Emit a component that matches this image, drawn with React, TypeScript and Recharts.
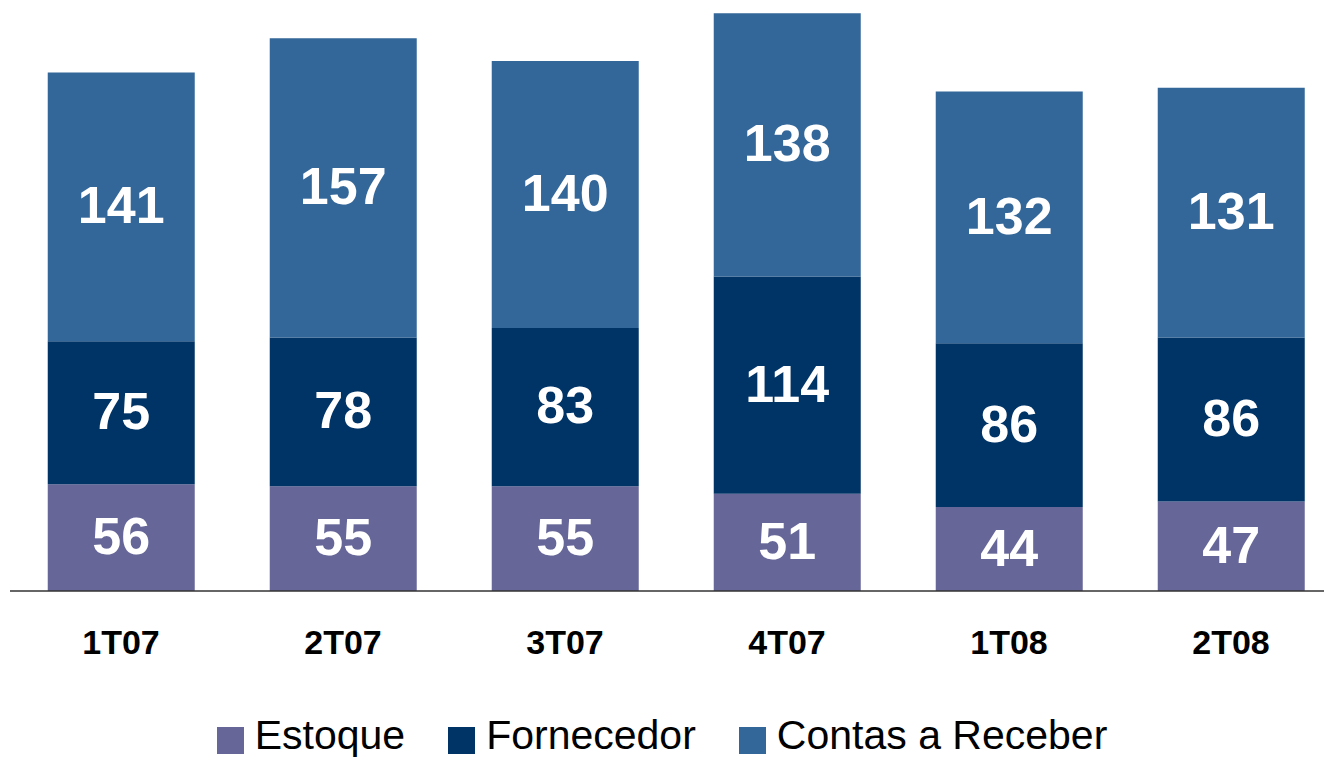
import React from "react";
import { BarChart, Bar, XAxis, YAxis, LabelList } from "recharts";

const categories = ["1T07", "2T07", "3T07", "4T07", "1T08", "2T08"];
const estoque = [56, 55, 55, 51, 44, 47];
const fornecedor = [75, 78, 83, 114, 86, 86];
const contasReceber = [141, 157, 140, 138, 132, 131];

const seriesNames = ["Estoque", "Fornecedor", "Contas a Receber"];
const colors = ["#666699", "#003366", "#336699"];

const data = categories.map((c, i) => ({
  name: c,
  estoque: estoque[i],
  fornecedor: fornecedor[i],
  contas: contasReceber[i],
}));

const FONT = "'Liberation Sans', Arial, Helvetica, sans-serif";

const labelStyle = {
  fill: "#ffffff",
  fontSize: 52,
  fontWeight: "bold" as const,
  fontFamily: FONT,
};

export default function App() {
  const keys = ["estoque", "fornecedor", "contas"];
  return (
    <div
      style={{
        position: "absolute",
        left: 0,
        top: 0,
        width: 1324,
        height: 760,
        overflow: "hidden",
        background: "#ffffff",
      }}
    >
      <BarChart
        width={1342}
        height={760}
        data={data}
        margin={{ top: 0, right: 0, bottom: 0, left: 10 }}
        barCategoryGap="17%"
      >
        <YAxis hide domain={[0, 310]} allowDataOverflow />
        <XAxis
          dataKey="name"
          height={169}
          tickLine={false}
          axisLine={{ stroke: "#333333", strokeWidth: 1.5 }}
          tickMargin={33}
          tick={{ fill: "#000000", fontSize: 34, fontWeight: "bold", fontFamily: FONT }}
          interval={0}
        />
        {keys.map((k, i) => (
          <Bar
            key={k}
            dataKey={k}
            name={seriesNames[i]}
            stackId="a"
            fill={colors[i]}
            isAnimationActive={false}
          >
            <LabelList dataKey={k} position="center" offset={0} dy={-2} style={labelStyle} />
          </Bar>
        ))}
      </BarChart>
      <div
        style={{
          position: "absolute",
          left: 0,
          top: 717,
          width: 1324,
          display: "flex",
          justifyContent: "center",
          fontFamily: FONT,
        }}
      >
        {seriesNames.map((n, i) => (
          <div
            key={n}
            style={{
              display: "flex",
              alignItems: "flex-start",
              marginLeft: i === 0 ? 0 : 43,
            }}
          >
            <span
              style={{
                display: "inline-block",
                width: 27,
                height: 27,
                marginTop: 10,
                marginRight: 11,
                background: colors[i],
              }}
            />
            <span style={{ fontSize: 41, lineHeight: "36px", color: "#000000", whiteSpace: "nowrap" }}>{n}</span>
          </div>
        ))}
      </div>
    </div>
  );
}
